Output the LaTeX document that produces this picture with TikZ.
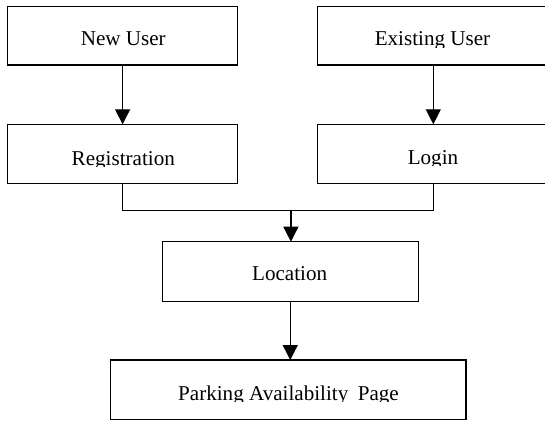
\documentclass[tikz,border=0pt]{standalone}
\usepackage{fontspec}
\setmainfont{Liberation Serif}
\usetikzlibrary{arrows.meta}

% Caption of a box, set on a given baseline; descenders are trimmed
% just below the baseline, as in the printed chart.
% #1 box name, #2 x of the caption centre, #3 baseline y, #4 caption
\newcommand\boxcaption[4]{%
  \begin{scope}
    \clip (#1.north west) rectangle (#1.east |- 0,#3-1.2);
    \node[boxtext] (#1-caption) at (#2,#3) {#4};
  \end{scope}}

\begin{document}
\begin{tikzpicture}[x=1pt,y=1pt,
  box/.style={draw, line width=1.3pt, inner sep=0pt, outer sep=0pt},
  boxtext/.style={anchor=base, inner sep=0pt, outer sep=0pt,
                  font=\fontsize{21.1}{25}\selectfont},
  link/.style={line width=1.3pt},
  arr/.style={link, -{Triangle[length=15pt,width=15pt]}}]

\clip (0,0) rectangle (545,421);
\fill[white] (0,0) rectangle (545,421);

% boxes
\node[box, minimum width=230.2pt, minimum height=58.3pt] (new)   at (122.6,385.15) {};
\node[box, minimum width=232pt,   minimum height=58.3pt] (exist) at (433.3,385.15) {};
\node[box, minimum width=230.2pt, minimum height=59pt]   (reg)   at (122.6,267.2)  {};
\node[box, minimum width=232pt,   minimum height=59pt]   (login) at (433.3,267.2)  {};
\node[box, minimum width=255.9pt, minimum height=59.8pt] (loc)   at (290.25,149.4) {};
\node[box, minimum width=355.3pt, minimum height=59.3pt] (park)  at (288.35,31.35) {};

% captions
\boxcaption{new}{123.3}{375}{New User}
\boxcaption{exist}{432.5}{375}{Existing User}
\boxcaption{reg}{123.3}{256}{Registration}
\boxcaption{login}{433}{256.5}{Login}
\boxcaption{loc}{289.6}{141}{Location}
\boxcaption{park}{288.5}{21}{Parking Availability\hspace{0.45em}Page}

% connectors
\coordinate (merge) at (290.9,210.3);
\draw[arr] (new) -- (reg);
\draw[arr] (exist) -- (login);
\draw[link] (reg.south) |- (merge) -| (login.south);
\draw[arr] (merge) -- (merge |- loc.north);
\draw[arr] (loc.south) -- (loc.south |- park.north);

\end{tikzpicture}
\end{document}
